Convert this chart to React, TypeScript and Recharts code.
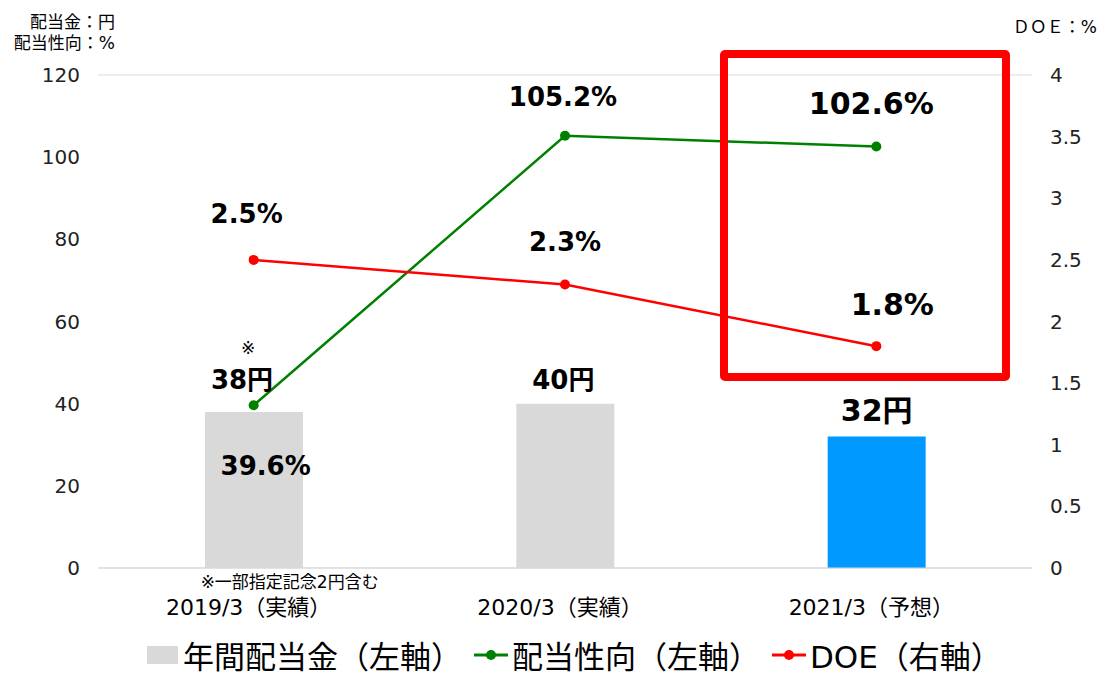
import React from 'react';
import {
  ComposedChart,
  Bar,
  Line,
  Cell,
  XAxis,
  YAxis,
  CartesianGrid,
  Legend,
  LabelList,
} from 'recharts';

document.body.style.margin = '0';

const FONT = '"DejaVu Sans", "Noto Sans CJK JP", sans-serif';

// データ
const categories = ['2019/3（実績）', '2020/3（実績）', '2021/3（予想）'];
const dividends = [38, 40, 32];
const payoutRatio = [39.6, 105.2, 102.6];
const doe = [2.5, 2.3, 1.8];
const barColors = ['#d9d9d9', '#d9d9d9', '#0099ff'];
const leftTicks = [0, 20, 40, 60, 80, 100, 120];
const rightTicks = [0, 0.5, 1, 1.5, 2, 2.5, 3, 3.5, 4];
const seriesNames = ['年間配当金（左軸）', '配当性向（左軸）', 'DOE（右軸）'];
const footnote = '※一部指定記念2円含む';
const leftTitle = ['配当金：円', '配当性向：%'];
const rightTitle = 'ＤＯＥ：%';

const chartData = categories.map((name, i) => ({
  name,
  dividend: dividends[i],
  payout: payoutRatio[i],
  doe: doe[i],
}));

// ラベル位置の微調整
const barLabelPos = [
  { dx: -12, dy: -32, size: 26 },
  { dx: -2, dy: -24, size: 26 },
  { dx: 0, dy: -26, size: 30 },
];
const payoutLabelPos = [
  { dx: 12, dy: 61, size: 26 },
  { dx: -2, dy: -39, size: 26 },
  { dx: -5, dy: -43, size: 30 },
];
const doeLabelPos = [
  { dx: -7, dy: -46, size: 26 },
  { dx: 0, dy: -43, size: 26 },
  { dx: 16, dy: -42, size: 30 },
];

const BarLabel = (props: any) => {
  const { x, y, width, value, index } = props;
  const p = barLabelPos[index];
  const cx = x + width / 2 + p.dx;
  return (
    <g>
      {index === 0 && (
        <text x={cx + 6} y={y - 64} textAnchor="middle" dominantBaseline="central"
          fontFamily={FONT} fontSize={17} fill="#000">※</text>
      )}
      <text x={cx} y={y + p.dy} textAnchor="middle" dominantBaseline="central"
        fontFamily={FONT} fontSize={p.size} fontWeight="bold" fill="#000">
        {`${value}円`}
      </text>
    </g>
  );
};

const makeLineLabel = (pos: { dx: number; dy: number; size: number }[]) => (props: any) => {
  const { x, y, value, index } = props;
  const p = pos[index];
  return (
    <text x={x + p.dx} y={y + p.dy} textAnchor="middle" dominantBaseline="central"
      fontFamily={FONT} fontSize={p.size} fontWeight="bold" fill="#000">
      {`${Number(value).toFixed(1)}%`}
    </text>
  );
};

const CategoryTick = (props: any) => {
  const { x, y, payload, index } = props;
  return (
    <g>
      {index === 0 && (
        <text x={x + 36} y={y + 12} textAnchor="middle" dominantBaseline="central"
          fontFamily={FONT} fontSize={17} fill="#000">{footnote}</text>
      )}
      <text x={x - 5} y={y + 37} textAnchor="middle" dominantBaseline="central"
        fontFamily={FONT} fontSize={22} fill="#000">{payload.value}</text>
    </g>
  );
};

const LegendContent = (props: any) => {
  const items = [...(props.payload || [])].sort(
    (a: any, b: any) => seriesNames.indexOf(a.value) - seriesNames.indexOf(b.value)
  );
  return (
    <div style={{ height: 45, display: 'flex', alignItems: 'center', paddingLeft: 147, paddingTop: 8, boxSizing: 'border-box', fontFamily: FONT, fontSize: 31, color: '#000' }}>
      {items.map((entry: any, i: number) => (
        <div key={i} style={{ display: 'flex', alignItems: 'center', marginRight: 12 }}>
          {entry.type === 'rect' ? (
            <svg width={31} height={18} style={{ marginRight: 5 }}>
              <rect width={31} height={18} fill={entry.color} />
            </svg>
          ) : (
            <svg width={34} height={14} style={{ marginRight: 4 }}>
              <line x1={0} y1={7} x2={34} y2={7} stroke={entry.color} strokeWidth={3} />
              <circle cx={17} cy={7} r={5} fill={entry.color} />
            </svg>
          )}
          <span style={{ whiteSpace: 'nowrap' }}>{entry.value}</span>
        </div>
      ))}
    </div>
  );
};

export default function App() {
  return (
    <div style={{ position: 'relative', width: 1105, height: 673, background: '#fff' }}>
      <div style={{ position: 'absolute', right: 1105 - 115, top: 12, fontFamily: FONT, fontSize: 17, lineHeight: '21px', textAlign: 'right', color: '#000', whiteSpace: 'nowrap' }}>
        {leftTitle.map((t) => <div key={t}>{t}</div>)}
      </div>
      <div style={{ position: 'absolute', right: 8, top: 17, fontFamily: FONT, fontSize: 17, lineHeight: '21px', color: '#000', whiteSpace: 'nowrap' }}>
        {rightTitle}
      </div>
      <ComposedChart
        width={1105}
        height={673}
        data={chartData}
        margin={{ top: 75, right: 0, bottom: 0, left: 0 }}
      >
        <CartesianGrid vertical={false} stroke="#d9d9d9" />
        <XAxis
          dataKey="name"
          axisLine={{ stroke: '#d9d9d9' }}
          tickLine={false}
          tickSize={0}
          height={60}
          interval={0}
          tick={<CategoryTick />}
        />
        <YAxis
          yAxisId="left"
          domain={[0, 120]}
          ticks={leftTicks}
          width={98}
          axisLine={false}
          tickLine={false}
          tickSize={0}
          tickMargin={18}
          tick={{ fill: '#222', fontSize: 20, fontFamily: FONT }}
        />
        <YAxis
          yAxisId="right"
          orientation="right"
          domain={[0, 4]}
          ticks={rightTicks}
          width={73}
          axisLine={false}
          tickLine={false}
          tickSize={0}
          tickMargin={18}
          tick={{ fill: '#222', fontSize: 20, fontFamily: FONT, textAnchor: 'start' }}
        />
        <Legend verticalAlign="bottom" content={<LegendContent />} />
        <Bar yAxisId="left" dataKey="dividend" name={seriesNames[0]} fill="#d9d9d9" barSize={98} isAnimationActive={false}>
          {chartData.map((_, i) => (
            <Cell key={i} fill={barColors[i]} />
          ))}
          <LabelList dataKey="dividend" content={<BarLabel />} />
        </Bar>
        <Line
          yAxisId="left"
          dataKey="payout"
          name={seriesNames[1]}
          stroke="#008000"
          strokeWidth={2.5}
          dot={{ r: 5, fill: '#008000', stroke: 'none' }}
          activeDot={false}
          isAnimationActive={false}
        >
          <LabelList dataKey="payout" content={makeLineLabel(payoutLabelPos)} />
        </Line>
        <Line
          yAxisId="right"
          dataKey="doe"
          name={seriesNames[2]}
          stroke="#ff0000"
          strokeWidth={2.5}
          dot={{ r: 5, fill: '#ff0000', stroke: 'none' }}
          activeDot={false}
          isAnimationActive={false}
        >
          <LabelList dataKey="doe" content={makeLineLabel(doeLabelPos)} />
        </Line>
      </ComposedChart>
      <div style={{ position: 'absolute', left: 720, top: 50, width: 290, height: 331, border: '8px solid #ff0000', borderRadius: 5, boxSizing: 'border-box', pointerEvents: 'none' }} />
    </div>
  );
}
